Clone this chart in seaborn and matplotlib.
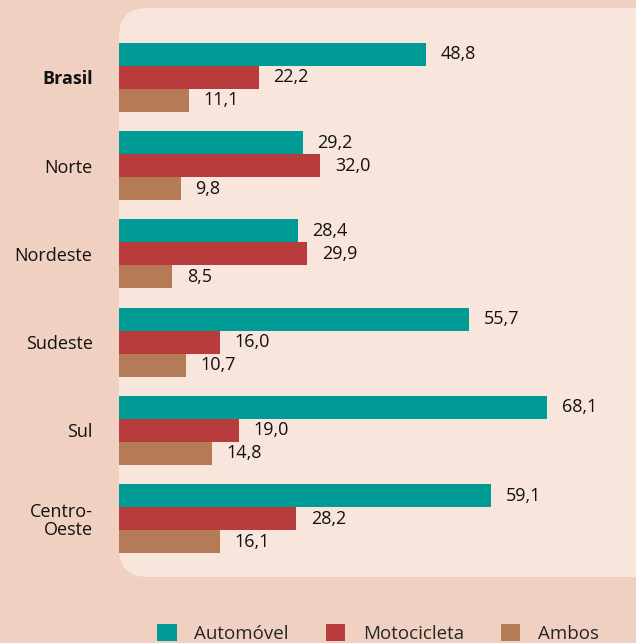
import matplotlib
matplotlib.use("Agg")
import matplotlib.pyplot as plt
from matplotlib.patches import FancyBboxPatch
import seaborn as sns
import pandas as pd

regioes = ["Brasil", "Norte", "Nordeste", "Sudeste", "Sul", "Centro-Oeste"]
tick_labels = ["Brasil", "Norte", "Nordeste", "Sudeste", "Sul", "Centro-\nOeste"]
series = ["Automóvel", "Motocicleta", "Ambos"]
automovel = [48.8, 29.2, 28.4, 55.7, 68.1, 59.1]
motocicleta = [22.2, 32.0, 29.9, 16.0, 19.0, 28.2]
ambos = [11.1, 9.8, 8.5, 10.7, 14.8, 16.1]
colors = ["#009b94", "#b83c3c", "#b57b57"]

rows = []
for s, vals in zip(series, [automovel, motocicleta, ambos]):
    for r, v in zip(regioes, vals):
        rows.append({"Região": r, "Tipo": s, "Valor": v})
df = pd.DataFrame(rows)

sns.set_style("white")
plt.rcParams["font.family"] = ["Open Sans", "DejaVu Sans"]

W, H = 636, 643
fig = plt.figure(figsize=(W / 100, H / 100), dpi=100)
fig.patch.set_facecolor("#f0d0c0")

# panel
px0, py0, px1, py1 = 119, 8, 665, 577
panel = FancyBboxPatch((px0 / W, 1 - py1 / H), (px1 - px0) / W, (py1 - py0) / H,
                       boxstyle="round,pad=0,rounding_size=0.045",
                       transform=fig.transFigure, facecolor="#f8e5dc",
                       edgecolor="none", zorder=-5, mutation_aspect=W / H)
fig.patches.append(panel)

ax = fig.add_axes([px0 / W, 1 - py1 / H, (W - px0) / W, (py1 - py0) / H])
ax.set_facecolor("none")
ax.set_zorder(2)

sns.barplot(data=df, y="Região", x="Valor", hue="Tipo", order=regioes,
            hue_order=series, palette=colors, saturation=1, width=0.78,
            orient="h", linewidth=0, ax=ax)

scale = 6.29
ax.set_xlim(0, (W - px0) / scale)
ax.set_ylim(5.66, -0.785)

for cont in ax.containers:
    for bar in cont:
        w = bar.get_width()
        ax.annotate(f"{w:.1f}".replace(".", ","),
                    (w, bar.get_y() + bar.get_height() / 2),
                    xytext=(10.5, 0), textcoords="offset points",
                    ha="left", va="center", fontsize=13, color="#111111")

ax.set_yticks(range(len(regioes)))
ax.set_yticklabels(tick_labels, fontsize=13, color="#111111", ha="right",
                   multialignment="right", linespacing=1.0)
ax.get_yticklabels()[0].set_fontweight("bold")
ax.tick_params(axis="y", length=0, pad=19)
ax.set_xticks([])
ax.set_xlabel("")
ax.set_ylabel("")
for sp in ax.spines.values():
    sp.set_visible(False)

sns.move_legend(ax, "lower left", bbox_to_anchor=(157 / W, 0.0),
                bbox_transform=fig.transFigure, ncol=3, frameon=False,
                title=None, fontsize=13.5, handlelength=1.05, handleheight=1.05,
                handletextpad=0.95, columnspacing=1.95, borderaxespad=0,
                borderpad=0)

fig.savefig("out.png", dpi=100, facecolor=fig.get_facecolor())
